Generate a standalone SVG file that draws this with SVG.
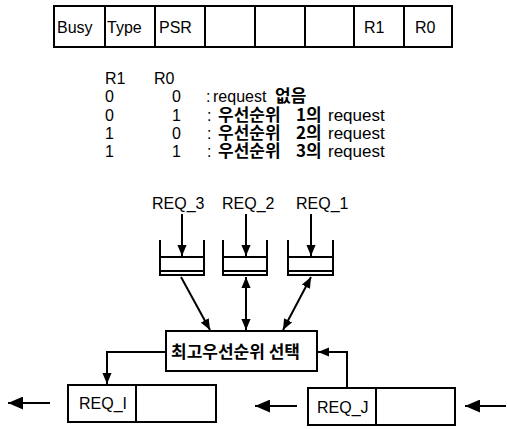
<svg xmlns="http://www.w3.org/2000/svg" width="507" height="429" viewBox="0 0 507 429">
<style>
.ln{stroke:#000;stroke-width:2;fill:none}
.bx{stroke:#000;stroke-width:2;fill:#fff}
.t{font-family:"Liberation Sans",Arial,sans-serif;font-size:16px;fill:#000}
.k{font-family:"Liberation Sans","Noto Sans CJK KR",sans-serif;font-size:16px;fill:#000}
.b{font-family:"Noto Sans CJK KR",sans-serif;font-weight:bold;font-size:17px}
.kb{font-family:"Noto Sans CJK KR",sans-serif;font-weight:bold;fill:#000}
</style>
<defs>
<marker id="ah" viewBox="0 0 12 10" refX="12" refY="5" markerWidth="11" markerHeight="10" orient="auto-start-reverse" markerUnits="userSpaceOnUse">
<path d="M0,0 L12,5 L0,10 z" fill="#000"/>
</marker>
<marker id="big" viewBox="0 0 14 12" refX="14" refY="6" markerWidth="15" markerHeight="13" orient="auto" markerUnits="userSpaceOnUse">
<path d="M0,0 L14,6 L0,12 z" fill="#000"/>
</marker>
</defs>
<rect width="507" height="429" fill="#fff"/>
<g id="register">
<rect class="bx" x="54" y="6" width="398" height="41"/>
<path class="ln" d="M105,6V47M155,6V47M205,6V47M255,6V47M305,6V47M354,6V47M404,6V47"/>
<text class="t" x="57" y="33" font-size="18">Busy</text>
<text class="t" x="107" y="33" font-size="18">Type</text>
<text class="t" x="159" y="33" font-size="15">PSR</text>
<text class="t" x="364" y="33" font-size="13">R1</text>
<text class="t" x="415" y="33" font-size="13">R0</text>
</g>
<g id="table">
<text class="t" x="105" y="84" font-size="15">R1</text>
<text class="t" x="154" y="84" font-size="15">R0</text>
<text class="t" x="105" y="102">0</text><text class="t" x="172" y="102">0</text>
<text class="t" x="105" y="121">0</text><text class="t" x="172" y="121">1</text>
<text class="t" x="105" y="139">1</text><text class="t" x="172" y="139">0</text>
<text class="t" x="105" y="157">1</text><text class="t" x="172" y="157">1</text>
<text class="k" y="102"><tspan x="206">:</tspan><tspan x="213">request</tspan><tspan x="275" class="b">없음</tspan></text>
<text class="k" y="121"><tspan x="207">:</tspan><tspan x="218" class="b">우선순위</tspan><tspan x="296" class="b">1의</tspan><tspan x="328" font-size="17">request</tspan></text>
<text class="k" y="139"><tspan x="207">:</tspan><tspan x="218" class="b">우선순위</tspan><tspan x="296" class="b">2의</tspan><tspan x="328" font-size="17">request</tspan></text>
<text class="k" y="157"><tspan x="207">:</tspan><tspan x="218" class="b">우선순위</tspan><tspan x="296" class="b">3의</tspan><tspan x="328" font-size="17">request</tspan></text>
</g>
<g id="req3">
<text class="t" x="152" y="209" font-size="15">REQ_3</text>
<path class="ln" d="M160,240V275H204V240" stroke-width="3"/>
<rect class="bx" x="160" y="257" width="44" height="14"/>
</g>
<g id="req2">
<text class="t" x="222" y="209" font-size="15">REQ_2</text>
<path class="ln" d="M223,240V275H267V240" stroke-width="3"/>
<rect class="bx" x="223" y="257" width="44" height="14"/>
</g>
<g id="req1">
<text class="t" x="296" y="209" font-size="15">REQ_1</text>
<path class="ln" d="M288,240V275H333V240" stroke-width="3"/>
<rect class="bx" x="288" y="257" width="45" height="14"/>
</g>
<g id="select">
<rect class="bx" x="166" y="331" width="151" height="40"/>
<text class="kb" x="171" y="358" font-size="17">최고우선순위 선택</text>
</g>
<g id="reqI">
<rect class="bx" x="68" y="385" width="148" height="37"/>
<path class="ln" d="M136,385V422"/>
<text class="t" x="79" y="409" font-size="14">REQ_I</text>
</g>
<g id="reqJ">
<rect class="bx" x="308" y="388" width="147" height="37"/>
<path class="ln" d="M376,388V425"/>
<text class="t" x="317" y="413" font-size="14">REQ_J</text>
</g>
<g id="connectors">
<path class="ln" d="M182,214V256" marker-end="url(#ah)"/>
<path class="ln" d="M246,214V256" marker-end="url(#ah)"/>
<path class="ln" d="M311,214V256" marker-end="url(#ah)"/>
<path class="ln" d="M181,277L210,330" marker-end="url(#ah)"/>
<path class="ln" d="M246,277V330" marker-start="url(#ah)" marker-end="url(#ah)"/>
<path class="ln" d="M311,277L283,330" marker-start="url(#ah)" marker-end="url(#ah)"/>
<path class="ln" d="M166,352H107V384" marker-end="url(#ah)"/>
<path class="ln" d="M347,388V352H318" marker-end="url(#ah)"/>
<path class="ln" d="M50,403H8" stroke-width="3" marker-end="url(#big)"/>
<path class="ln" d="M297,406H255" stroke-width="3" marker-end="url(#big)"/>
<path class="ln" d="M506,406H465" stroke-width="3" marker-end="url(#big)"/>
</g>
</svg>
